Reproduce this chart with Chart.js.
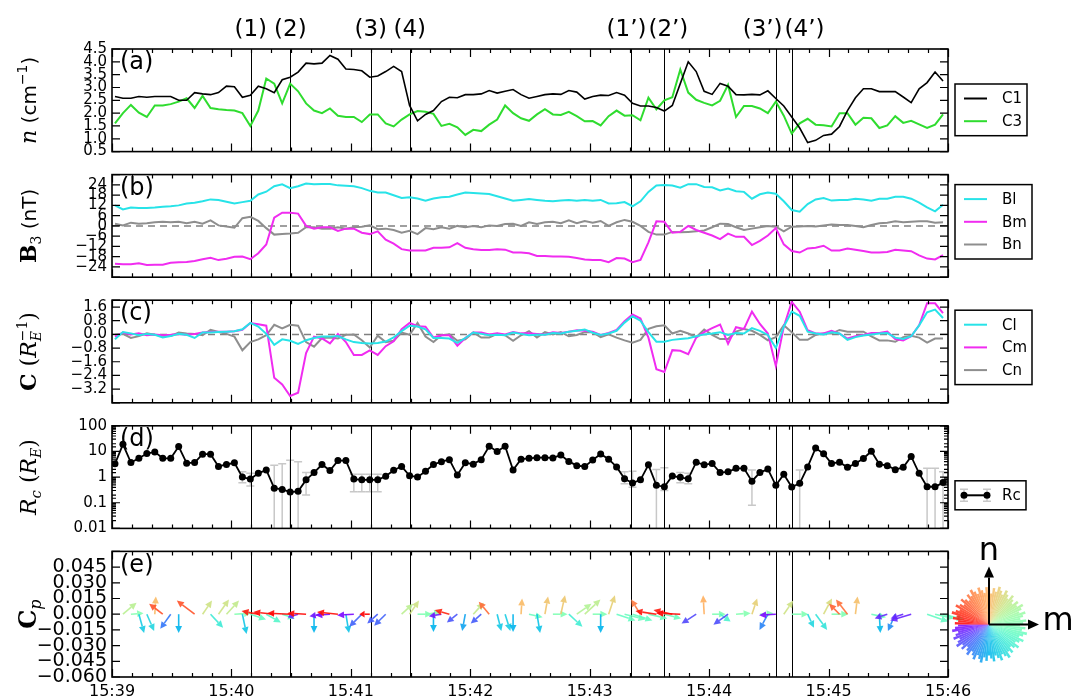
<!DOCTYPE html>
<html>
<head>
<meta charset="utf-8">
<script src="https://cdn.jsdelivr.net/npm/chart.js@4.4.1/dist/chart.umd.min.js"></script>
<style>
  body { margin: 0; background: #fff; }
  #wrap { position: relative; width: 1086px; height: 700px; }
  #wrap canvas { position: absolute; left: 0; top: 0; }
</style>
</head>
<body>
<div id="wrap">
  <canvas id="panel-a" width="1086" height="700"></canvas>
  <canvas id="panel-b" width="1086" height="700"></canvas>
  <canvas id="panel-c" width="1086" height="700"></canvas>
  <canvas id="panel-d" width="1086" height="700"></canvas>
  <canvas id="panel-e" width="1086" height="700"></canvas>
</div>
<script>
// samples every 4 s, counted in seconds from 15:39:00
const sampleStart = 1.5;
const sampleStep = 4;
const xTickLabels = ["15:39", "15:40", "15:41", "15:42", "15:43", "15:44", "15:45", "15:46"];

const eventSeconds = [69.7, 89.6, 130.0, 149.6, 260.8, 277.2, 333.4, 341.4];
const eventLabels = ["(1)", "(2)", "(3)", "(4)", "(1\u2019)", "(2\u2019)", "(3\u2019)", "(4\u2019)"];

// y tick values per panel (ends of range are unlabeled)
const yTicksA = [0.5, 1.0, 1.5, 2.0, 2.5, 3.0, 3.5, 4.0, 4.5];
const yTicksB = [-30, -24, -18, -12, -6, 0, 6, 12, 18, 24, 30];
const yTicksC = [-4.0, -3.2, -2.4, -1.6, -0.8, 0.0, 0.8, 1.6, 2.0];
const yTicksE = [-0.06, -0.045, -0.03, -0.015, 0, 0.015, 0.03, 0.045, 0.06];

// (a) density
const nC1 = [
  2.65, 2.58, 2.58, 2.65, 2.62, 2.65, 2.65, 2.65, 2.5, 2.5,
  2.8, 2.75, 2.72, 2.8, 3.05, 3.03, 2.62, 2.7, 3.05, 2.95,
  2.8, 3.3, 3.4, 3.6, 3.95, 3.92, 3.95, 4.25, 4.1, 3.72,
  3.7, 3.65, 3.4, 3.45, 3.62, 3.82, 3.62, 2.3, 1.7, 1.95,
  2.1, 2.45, 2.62, 2.6, 2.72, 2.72, 2.75, 2.88, 2.78, 2.85,
  2.92, 2.72, 2.58, 2.65, 2.72, 2.75, 2.73, 2.88, 2.82, 2.55,
  2.65, 2.7, 2.69, 2.8, 2.7, 2.38, 2.28, 2.28, 2.22, 2.08,
  2.3, 3.15, 4.0, 3.62, 2.85, 2.73, 3.16, 3.05, 2.72, 2.71,
  2.73, 2.71, 2.87, 2.57, 2.28, 1.85, 1.42, 0.85, 0.94, 1.13,
  1.18, 1.48, 2.1, 2.6, 2.95, 2.95, 2.84, 2.84, 2.84, 2.63,
  2.41, 2.95, 3.19, 3.6, 3.25
];
const nC3 = [
  1.6, 2.0, 2.32, 2.02, 1.85, 2.3, 2.3, 2.35, 2.45, 2.58,
  2.2, 2.67, 2.2, 2.15, 2.12, 2.1, 2.0, 1.5, 2.1, 3.35,
  3.15, 2.38, 3.15, 2.85, 2.38, 2.1, 2.0, 2.18, 1.9, 1.85,
  1.85, 1.65, 1.95, 1.95, 1.6, 1.48, 1.75, 1.95, 2.08, 2.05,
  1.97, 1.5, 1.58, 1.45, 1.15, 1.35, 1.3, 1.55, 1.75, 2.3,
  2.0, 1.8, 1.7, 1.95, 2.15, 1.95, 1.93, 2.05, 1.88, 1.68,
  1.69, 1.52, 1.88, 2.1, 1.9, 1.92, 1.72, 2.6, 2.15, 2.5,
  2.62, 3.7, 2.8, 2.52, 2.4, 2.3, 2.48, 3.1, 1.85, 2.28,
  2.28, 2.18, 2.0, 2.45, 1.9, 1.2, 1.6, 1.78, 1.55, 1.53,
  1.48, 2.0, 2.0, 1.55, 1.82, 1.8, 1.42, 1.52, 1.88, 1.62,
  1.7, 1.56, 1.42, 1.55, 1.95
];

// (b) magnetic field, LMN
const bL = [
  12, 9.6, 10.7, 10.4, 10.4, 10.7, 11.2, 11.5, 12, 13.1,
  13.6, 14.4, 15.5, 15.2, 14.1, 13.1, 13.9, 14.7, 18.4, 20,
  23.2, 24.3, 22.1, 23.2, 24.8, 24.3, 24.5, 24.5, 23.7, 23.5,
  23.2, 22.1, 20.5, 19.5, 19.5, 17.9, 16.3, 16.8, 16, 14.7,
  16, 16.8, 17.1, 18.4, 19.5, 19.2, 18.9, 18.7, 17.3, 16,
  14.7, 15.2, 15.7, 15.2, 14.7, 14.4, 14.8, 15.2, 14.7, 15.2,
  14.7, 15.2, 13.1, 13.2, 13.9, 11.5, 14.4, 19.9, 23.6, 23.9,
  23.6, 22.3, 24.4, 24.4, 22.8, 22.6, 20.7, 21.8, 20.3, 19.9,
  15.9, 18.5, 19.5, 18.8, 14.4, 9.3, 8.3, 12.8, 15.5, 16.3,
  14.8, 15.2, 15.2, 15.9, 15.5, 14.7, 15.9, 15.9, 17.1, 17.1,
  15.9, 13.6, 10.8, 8.5, 12.4
];
const bM = [
  -22.1, -22.4, -22.4, -21.9, -22.9, -22.7, -22.7, -21.6, -21.3, -21.1,
  -20.5, -19.5, -18.7, -20, -19.2, -18.1, -17.9, -19.5, -16, -10.9,
  4.8, 7.7, 7.7, 7.2, 0, -1.6, -0.8, -0.8, -2.9, -1.6,
  -1.6, -4, -4.8, -3.2, -8, -10.4, -13.6, -14.4, -14.4, -14.4,
  -12.8, -12.8, -12.5, -10.1, -12.8, -13.6, -14.1, -14.1, -13.6, -13.9,
  -15.5, -15.5, -16, -17.6, -17.6, -17.9, -17.9, -18, -18.8, -19.6,
  -19.9, -19.9, -21.2, -18.8, -19.1, -21.2, -19.9, -9.6, 2.7, 2.4,
  -4, -3.5, 0, -2.4, -4, -5.6, -7.7, -4.5, -6.4, -6.4,
  -11.2, -8.8, -5.6, -1.3, -10.8, -14.7, -15.6, -13.2, -12.8, -11.6,
  -14.4, -14.4, -13.2, -13.9, -14.7, -15.5, -15.5, -15.2, -13.9, -14.4,
  -14.8, -17.2, -19.1, -19.6, -17.1
];
const bN = [
  1.3, 0.3, 1.9, 1.3, 1.6, 2.1, 2.4, 2.1, 2.4, 1.6,
  2.4, 1.3, 3.2, 0.3, -0.3, -1.1, 4.5, 5.3, 2.9, -1.3,
  -5.1, -4.8, -4.5, -4, -0.8, -0.8, -1.6, -1.6, -0.8, -1.6,
  -0.8, -0.5, 0.3, -1.9, -1.6, -2.4, -4, -2.9, -4.8, -1.3,
  -1.9, -0.8, -1.6, 0, -0.8, 0, -0.8, 0.3, 0, 1.1,
  1.3, 0, 2.1, 1.1, 2.1, 2.4, 1.6, 3.2, 1.6, 2.9,
  1.9, 2.9, 0, 2.1, 3.5, 2.4, 0, -3.5, -5.1, -5.1,
  -3.5, -3.7, -3.5, -3.2, -2.7, -0.8, 1.3, 1.1, -0.8, -2.4,
  -1.6, -0.8, 0, -0.5, -3.2, -0.5, -0.3, 0, -0.3, 0.3,
  0.8, 0.5, 0.5, 0, -0.8, 0.5, 1.6, 1.9, 2.7, 2.1,
  2.4, 2.7, 2.7, 1.9, 2.1
];

// (c) curvature components
const cL = [
  -0.29, 0.14, 0.06, -0.05, 0.03, -0.02, -0.18, -0.1, 0.03, -0.02,
  -0.21, 0.11, 0.11, 0.14, 0.16, 0.19, 0.3, 0.67, 0.46, 0.03,
  -0.61, -0.29, -0.37, -0.56, -0.34, -0.21, -0.13, -0.13, -0.1, -0.29,
  -0.45, -0.5, -0.53, -0.5, -0.42, -0.18, 0.19, 0.51, 0.46, 0.3,
  -0.21, -0.21, -0.24, -0.5, -0.21, 0.11, 0.03, -0.05, -0.02, -0.05,
  0.11, 0.03, -0.05, -0.02, -0.02, 0.08, 0.05, 0.16, 0.21, 0.29,
  0.1, -0.03, 0.05, 0.21, 0.69, 1.06, 0.8, 0.13, -0.43, -0.43,
  -0.32, -0.27, -0.23, -0.11, 0, 0.05, 0.13, -0.03, 0.08, 0.05,
  0.37, 0.21, -0.03, -0.8, 0.45, 1.33, 1.09, 0.16, 0.05, 0,
  0.13, 0.05, -0.32, -0.16, -0.06, 0, 0.05, 0.08, -0.19, -0.27,
  -0.11, 0.53, 1.29, 1.45, 0.96
];
const cM = [
  -0.13, 0.11, 0, 0.06, -0.05, 0, -0.05, -0.02, 0.03, -0.02,
  0.03, 0.11, 0.14, 0.16, 0.16, 0.19, 0.27, 0.67, 0.59, 0.51,
  -2.53, -2.93, -3.6, -3.41, -1.09, -0.13, -0.24, -0.53, 0.03, -0.45,
  -1.2, -1.2, -0.93, -1.2, -0.69, -0.4, 0.3, 0.67, 0.48, 0.45,
  -0.18, -0.05, -0.05, -0.66, -0.21, 0.11, 0.11, 0, 0.06, 0,
  0.14, 0.06, 0.06, 0.03, 0, 0.13, 0.08, 0.16, 0.24, 0.21,
  0.16, -0.03, 0.08, 0.26, 0.77, 1.17, 0.93, -0.19, -2.04, -2.2,
  -0.92, -0.96, -1.16, -0.19, 0.13, 0.37, 0.58, -0.55, 0.42, 0.32,
  1.33, 0.61, 0.05, -1.85, 0.45, 1.9, 1.33, 0.24, 0.05, 0.05,
  0.21, 0.05, -0.24, -0.11, -0.03, 0.08, 0.08, 0.16, -0.27, -0.35,
  -0.11, 0.53, 1.82, 1.82, 1.25
];
const cN = [
  -0.02, 0.03, -0.21, -0.1, 0.06, -0.02, -0.08, -0.1, 0.11, 0.06,
  0.03, -0.05, 0.27, 0.14, 0.03, -0.13, -0.93, -0.45, -0.29, -0.05,
  0.56, 0.35, 0.56, 0.51, -0.45, -0.72, -0.21, -0.18, -0.24, -0.02,
  0, -0.34, -0.77, -0.08, -0.45, -0.37, 0.11, -0.02, 0.67, -0.13,
  -0.45, -0.05, 0, -0.37, -0.29, 0.11, -0.18, -0.18, 0.03, -0.05,
  -0.37, -0.05, 0.19, -0.18, 0.14, 0, 0.13, -0.11, -0.03, 0.13,
  0.13, -0.16, 0, -0.19, -0.35, -0.48, -0.32, 0.32, 0.48, 0.53,
  0.05, 0.21, 0.05, -0.16, 0.29, -0.03, -0.27, -0.27, 0.16, 0.32,
  0.21, -0.03, -0.35, -0.16, 0.53, 0.13, -0.32, -0.32, -0.03, 0.05,
  0.05, 0.26, 0.16, 0.16, 0.16, -0.11, -0.35, -0.35, -0.43, -0.16,
  -0.08, -0.19, -0.48, -0.24, -0.24
];

// (d) curvature radius and its error bars
const rc = [
  3.3, 19, 3.7, 5.4, 8.3, 9.6, 5.4, 5.4, 15.5, 3.5,
  3.7, 7.8, 7.8, 2.6, 3.1, 3.6, 1.0, 0.84, 1.4, 1.9,
  0.37, 0.33, 0.26, 0.28, 0.78, 1.5, 3.1, 1.8, 4.4, 4.4,
  0.84, 0.78, 0.78, 0.78, 1.08, 1.86, 2.6, 1.13, 1.0, 1.7,
  3.1, 4.0, 4.8, 1.2, 3.6, 3.2, 4.8, 16, 10, 16,
  1.9, 5.0, 5.4, 5.7, 5.7, 5.6, 7.2, 4.1, 2.8, 2.6,
  4.6, 8.0, 5.0, 2.5, 0.86, 0.59, 0.78, 3.0, 0.48, 0.42,
  1.1, 0.98, 0.86, 3.8, 3.0, 3.4, 1.5, 1.6, 2.2, 2.2,
  0.69, 1.5, 2.05, 0.48, 1.28, 0.41, 0.57, 2.5, 13.5, 8.2,
  3.4, 3.8, 2.4, 3.4, 5.3, 10.2, 3.2, 2.8, 1.95, 2.4,
  6.4, 1.4, 0.42, 0.42, 0.61
];
const rcErrIdx = [16, 17, 20, 21, 22, 23, 24, 30, 31, 32, 33, 64, 65, 68, 69, 71, 72, 80, 86, 102, 103, 104];
const rcErrLow = [0.6, 0.45, 0.005, 0.005, 0.005, 0.005, 0.2, 0.27, 0.27, 0.27, 0.27, 0.55, 0.4, 0.005, 0.3, 0.6, 0.55, 0.08, 0.005, 0.005, 0.005, 0.005];
const rcErrHigh = [1.6, 1.4, 2.9, 3.3, 4.5, 4.0, 1.5, 1.3, 1.3, 1.3, 1.3, 1.6, 1.7, 2.0, 2.3, 1.5, 1.4, 1.9, 1.9, 2.2, 2.2, 1.6];

// (e) Cp vectors in the m-n plane (tail on the zero line)
const cpIdx = [1, 2, 3, 4, 5, 6, 7, 8, 10, 11, 12, 13, 14, 15, 16, 17, 18, 19, 20, 21,
  22, 23, 24, 25, 26, 27, 28, 29, 30, 31, 32, 33, 34, 36, 37, 38, 39, 40, 41, 42,
  43, 44, 45, 46, 47, 48, 49, 50, 51, 52, 53, 54, 55, 56, 57, 58, 59, 60, 61, 62,
  63, 64, 65, 66, 67, 68, 69, 70, 71, 73, 74, 75, 76, 77, 78, 80, 81, 82, 83, 84,
  85, 87, 88, 89, 90, 91, 92, 93, 95, 96, 97, 98, 99, 100, 102, 103, 104];
const cpM = [0.013, 0.012, 0.005, 0.007, 0.001, -0.013, -0.010, 0.000, -0.017, 0.009, 0.012, 0.010, 0.012, 0.016, 0.004, 0.015, -0.016, 0.014, -0.020, 0.012,
  -0.022, -0.010, -0.018, 0.000, -0.012, -0.014, -0.020, 0.003, -0.016, -0.012, -0.010, -0.010, -0.011, 0.011, 0.009, 0.014, 0.015, 0.000, -0.012, -0.014,
  -0.010, -0.003, 0.010, -0.010, -0.010, 0.004, 0.005, 0.000, 0.001, 0.013, 0.003, 0.003, 0.014, 0.004, 0.013, 0.014, 0.015, 0.014, 0.000, 0.006,
  0.018, 0.020, 0.019, -0.009, 0.018, -0.020, 0.016, -0.018, -0.023, -0.014, -0.001, 0.013, 0.010, -0.014, 0.014, 0.005, 0.013, -0.008, -0.016, 0.009,
  0.016, 0.006, 0.011, 0.008, 0.016, -0.010, -0.011, 0.002, 0.014, 0.001, -0.012, -0.007, -0.012, -0.020, 0.020, 0.018, 0.020];
const cpN = [0.011, 0.001, -0.018, -0.016, 0.017, 0.010, -0.014, -0.018, 0.013, 0.013, -0.013, 0.014, 0.013, 0.001, -0.019, -0.005, 0.003, -0.008, 0.002, -0.004,
  0.001, -0.003, 0.001, -0.018, -0.002, -0.001, 0.002, -0.018, -0.001, -0.012, 0.000, -0.009, -0.011, 0.010, 0.013, 0.000, 0.002, -0.017, -0.002, 0.004,
  -0.008, -0.016, 0.011, -0.009, 0.012, -0.016, -0.016, -0.017, 0.015, -0.003, -0.018, 0.017, 0.000, 0.018, -0.012, 0.010, 0.014, 0.000, -0.018, 0.018,
  -0.006, -0.005, -0.006, 0.014, -0.004, 0.003, -0.004, 0.004, 0.001, -0.009, 0.018, 0.000, -0.007, -0.010, 0.001, 0.015, 0.001, -0.015, -0.001, 0.013,
  0.000, -0.013, -0.015, 0.015, 0.000, 0.010, 0.014, 0.017, -0.003, -0.018, -0.004, -0.016, -0.004, -0.006, -0.007, -0.004, -0.005];

const plotLeft = 112, plotRight = 948, plotTop = 49, panelHeight = 125.6, xAxisHeight = 23;

const toPoints = vals => vals.map((v, i) => ({ x: sampleStart + i * sampleStep, y: v }));
const minus = s => s.replace("-", "\u2212");

function rainbow(f, alpha) {
  const r = Math.min(1, Math.abs(2 * f - 0.5));
  const g = Math.max(0, Math.sin(Math.PI * f));
  const b = Math.max(0, Math.cos(Math.PI * f / 2));
  return `rgba(${Math.round(r * 255)},${Math.round(g * 255)},${Math.round(b * 255)},${alpha})`;
}
const angleColor = (m, n, alpha) => rainbow((Math.atan2(n, m) + Math.PI) / (2 * Math.PI), alpha);

function drawArrow(ctx, x0, y0, x1, y1, color, width, headLen, headHalf) {
  const dx = x1 - x0, dy = y1 - y0, len = Math.hypot(dx, dy);
  if (len < 0.5) return;
  const ux = dx / len, uy = dy / len;
  const hl = Math.min(headLen, len * 0.5);
  const bx = x1 - ux * hl, by = y1 - uy * hl;
  ctx.strokeStyle = color;
  ctx.fillStyle = color;
  ctx.lineWidth = width;
  ctx.beginPath(); ctx.moveTo(x0, y0); ctx.lineTo(bx, by); ctx.stroke();
  ctx.beginPath();
  ctx.moveTo(x1, y1);
  ctx.lineTo(bx - uy * headHalf, by + ux * headHalf);
  ctx.lineTo(bx + uy * headHalf, by - ux * headHalf);
  ctx.closePath(); ctx.fill();
}

// rotated y title built from runs with their own fonts
function drawTitle(ctx, parts, cx, cy) {
  ctx.save();
  ctx.translate(cx, cy);
  ctx.rotate(-Math.PI / 2);
  let total = 0;
  parts.forEach(p => { ctx.font = p.f; p.w = p.adv === 0 ? 0 : ctx.measureText(p.t).width; total += p.w; });
  let px = -total / 2;
  ctx.fillStyle = "#000";
  ctx.textBaseline = "alphabetic";
  parts.forEach(p => { ctx.font = p.f; ctx.fillText(p.t, px, 7 + (p.dy || 0)); px += p.w; });
  ctx.restore();
}

const decor = {
  id: "decor",
  beforeDatasetsDraw(chart, args, o) {
    const { ctx, chartArea: a } = chart;
    const x = chart.scales.x, y = chart.scales.y;
    ctx.save();
    ctx.beginPath(); ctx.rect(a.left, a.top, a.right - a.left, a.bottom - a.top); ctx.clip();
    if (o.zeroLine) {
      const py = y.getPixelForValue(0);
      ctx.setLineDash([7, 5]);
      ctx.strokeStyle = "#808080"; ctx.lineWidth = 1.5;
      ctx.beginPath(); ctx.moveTo(a.left, py); ctx.lineTo(a.right, py); ctx.stroke();
      ctx.setLineDash([]);
    }
    if (o.errorBars) {
      ctx.strokeStyle = "#c8c8c8"; ctx.lineWidth = 1.5;
      rcErrIdx.forEach((i, k) => {
        const px = x.getPixelForValue(sampleStart + i * sampleStep);
        const p1 = y.getPixelForValue(rcErrLow[k]), p2 = y.getPixelForValue(rcErrHigh[k]);
        ctx.beginPath();
        ctx.moveTo(px, p1); ctx.lineTo(px, p2);
        ctx.moveTo(px - 4, p1); ctx.lineTo(px + 4, p1);
        ctx.moveTo(px - 4, p2); ctx.lineTo(px + 4, p2);
        ctx.stroke();
      });
    }
    ctx.strokeStyle = "#000"; ctx.lineWidth = 1;
    eventSeconds.forEach(t => {
      const px = Math.round(x.getPixelForValue(t)) + 0.5;
      ctx.beginPath(); ctx.moveTo(px, a.top); ctx.lineTo(px, a.bottom); ctx.stroke();
    });
    ctx.restore();
  },
  afterDatasetsDraw(chart, args, o) {
    if (!o.arrows) return;
    const { ctx } = chart;
    const x = chart.scales.x, y = chart.scales.y;
    const y0 = y.getPixelForValue(0);
    const k = (y0 - y.getPixelForValue(0.015)) / 0.015;
    ctx.save();
    cpIdx.forEach((i, j) => {
      const x0 = x.getPixelForValue(sampleStart + i * sampleStep);
      const m = cpM[j], n = cpN[j];
      drawArrow(ctx, x0, y0, x0 + m * k, y0 - n * k, angleColor(m, n, 0.9), 1.6, 7, 3.4);
    });
    ctx.restore();
  },
  afterDraw(chart, args, o) {
    const { ctx, chartArea: a } = chart;
    const x = chart.scales.x, y = chart.scales.y;
    ctx.save();

    // ticks pointing inward on all four sides
    ctx.strokeStyle = "#000"; ctx.lineWidth = 1.2;
    ctx.beginPath();
    for (let t = 0; t <= 420; t += 10) {
      const px = Math.round(x.getPixelForValue(t)) + 0.5;
      const len = t % 60 === 0 ? 8 : 4;
      ctx.moveTo(px, a.top); ctx.lineTo(px, a.top + len);
      ctx.moveTo(px, a.bottom); ctx.lineTo(px, a.bottom - len);
    }
    y.ticks.forEach(tk => {
      const py = y.getPixelForValue(tk.value);
      if (py < a.top - 0.5 || py > a.bottom + 0.5) return;
      let len = 8;
      if (o.logTicks) {
        const l = Math.log10(tk.value);
        len = Math.abs(l - Math.round(l)) < 1e-6 ? 8 : 4;
      }
      ctx.moveTo(a.left, py); ctx.lineTo(a.left + len, py);
      ctx.moveTo(a.right, py); ctx.lineTo(a.right - len, py);
    });
    ctx.stroke();

    ctx.lineWidth = 1.6;
    ctx.strokeRect(a.left, a.top, a.right - a.left, a.bottom - a.top);

    // panel letter
    ctx.fillStyle = "#000";
    ctx.font = "24px 'DejaVu Sans'";
    ctx.textAlign = "left"; ctx.textBaseline = "top";
    ctx.fillText(o.letter, a.left + 8, a.top + 2);

    drawTitle(ctx, o.title, 29, (a.top + a.bottom) / 2);

    // legend box
    if (o.legend) {
      const items = o.legend.items;
      const bx = a.right + 7, by = a.top + o.legend.top;
      const bh = 29 + (items.length - 1) * 22.7;
      ctx.fillStyle = "#fff"; ctx.fillRect(bx, by, o.legend.width, bh);
      ctx.strokeStyle = "#000"; ctx.lineWidth = 1.5; ctx.strokeRect(bx, by, o.legend.width, bh);
      items.forEach((it, r) => {
        const cy = by + 14.5 + r * 22.7;
        const l0 = bx + 9, l1 = bx + 32;
        if (it.markers) {
          ctx.strokeStyle = "#c8c8c8"; ctx.lineWidth = 1.5;
          ctx.beginPath();
          [l0, l1].forEach(px => {
            ctx.moveTo(px, cy - 6); ctx.lineTo(px, cy + 6);
            ctx.moveTo(px - 4, cy - 6); ctx.lineTo(px + 4, cy - 6);
            ctx.moveTo(px - 4, cy + 6); ctx.lineTo(px + 4, cy + 6);
          });
          ctx.stroke();
        }
        ctx.strokeStyle = it.color; ctx.lineWidth = 2;
        ctx.beginPath(); ctx.moveTo(l0, cy); ctx.lineTo(l1, cy); ctx.stroke();
        if (it.markers) {
          ctx.fillStyle = it.color;
          [l0, l1].forEach(px => { ctx.beginPath(); ctx.arc(px, cy, 3.5, 0, 2 * Math.PI); ctx.fill(); });
        }
        ctx.fillStyle = "#000";
        ctx.font = "15px 'DejaVu Sans'";
        ctx.textAlign = "left"; ctx.textBaseline = "middle";
        ctx.fillText(it.label, bx + 47, cy + 1);
      });
    }

    // event labels above the first panel
    if (o.eventLabels) {
      ctx.font = "23px 'DejaVu Sans'";
      ctx.textAlign = "center"; ctx.textBaseline = "middle";
      ctx.fillStyle = "#000";
      const items = eventSeconds.map((t, i) => ({
        c: x.getPixelForValue(t), s: eventLabels[i], w: ctx.measureText(eventLabels[i]).width
      }));
      for (let i = 1; i < items.length; i++) {
        const need = (items[i - 1].w + items[i].w) / 2 + 2;
        const gap = items[i].c - items[i - 1].c;
        if (gap < need) { const d = (need - gap) / 2; items[i - 1].c -= d; items[i].c += d; }
      }
      items.forEach(it => ctx.fillText(it.s, it.c, 30));
    }

    // direction key: colour wheel with m and n axes
    if (o.wheel) {
      const cx = a.right + 41, cy = a.top + 73;
      const spikes = 90;
      for (let s = 0; s < spikes; s++) {
        const t0 = -Math.PI + s * 2 * Math.PI / spikes, t1 = t0 + 2 * Math.PI / spikes;
        const r = 31 + ((s * 37) % 11) * 0.8;
        const mid = (t0 + t1) / 2;
        ctx.fillStyle = angleColor(Math.cos(mid), Math.sin(mid), 0.85);
        ctx.beginPath();
        ctx.moveTo(cx, cy);
        ctx.lineTo(cx + r * Math.cos(t0), cy - r * Math.sin(t0));
        ctx.lineTo(cx + r * Math.cos(t1), cy - r * Math.sin(t1));
        ctx.closePath(); ctx.fill();
      }
      drawArrow(ctx, cx, cy, cx, cy - 58, "#000", 2, 11, 5);
      drawArrow(ctx, cx, cy, cx + 50, cy, "#000", 2, 11, 5);
      ctx.fillStyle = "#000";
      ctx.font = "32px 'DejaVu Sans'";
      ctx.textAlign = "center"; ctx.textBaseline = "middle";
      ctx.fillText("n", cx, cy - 73);
      ctx.fillText("m", cx + 69, cy - 3);
    }
    ctx.restore();
  }
};

const serif = "'DejaVu Serif'";
const sans = "'DejaVu Sans'";

const panels = [
  {
    canvas: "panel-a", letter: "(a)", eventLabels: true,
    title: [
      { t: "n", f: `italic 22px ${serif}` },
      { t: " (cm", f: `20px ${sans}` },
      { t: "\u22121", f: `14px ${sans}`, dy: -9 },
      { t: ")", f: `20px ${sans}` }
    ],
    y: { type: "linear", min: 0.5, max: 4.5, ticks: yTicksA, size: 15, fmt: v => v.toFixed(1) },
    series: [
      { label: "C1", values: nC1, color: "#000000", width: 1.6 },
      { label: "C3", values: nC3, color: "#2fdc2f", width: 2 }
    ],
    legend: { top: 35, width: 72 }
  },
  {
    canvas: "panel-b", letter: "(b)", zeroLine: true,
    title: [
      { t: "B", f: `bold 22px ${serif}` },
      { t: "3", f: `14px ${serif}`, dy: 5 },
      { t: " (nT)", f: `20px ${sans}` }
    ],
    y: { type: "linear", min: -30, max: 30, ticks: yTicksB, size: 15, fmt: v => Math.abs(v) > 29 ? "" : minus(String(v)) },
    series: [
      { label: "Bl", values: bL, color: "#27e3e8", width: 2 },
      { label: "Bm", values: bM, color: "#f02cf0", width: 2 },
      { label: "Bn", values: bN, color: "#8e8e8e", width: 2 }
    ],
    legend: { top: 10, width: 77 }
  },
  {
    canvas: "panel-c", letter: "(c)", zeroLine: true,
    title: [
      { t: "C", f: `bold 22px ${serif}` },
      { t: " (", f: `22px ${serif}` },
      { t: "R", f: `italic 22px ${serif}` },
      { t: "E", f: `italic 14px ${serif}`, dy: 5, adv: 0 },
      { t: "\u22121", f: `14px ${serif}`, dy: -9 },
      { t: ")", f: `22px ${serif}` }
    ],
    y: { type: "linear", min: -4, max: 2, ticks: yTicksC, size: 15, fmt: v => (v < -3.9 || v > 1.9) ? "" : minus(v.toFixed(1)) },
    series: [
      { label: "Cl", values: cL, color: "#27e3e8", width: 2 },
      { label: "Cm", values: cM, color: "#f02cf0", width: 2 },
      { label: "Cn", values: cN, color: "#8e8e8e", width: 2 }
    ],
    legend: { top: 10, width: 77 }
  },
  {
    canvas: "panel-d", letter: "(d)", errorBars: true, logTicks: true,
    title: [
      { t: "R", f: `italic 22px ${serif}` },
      { t: "c", f: `italic 15px ${serif}`, dy: 5 },
      { t: " (", f: `22px ${serif}` },
      { t: "R", f: `italic 22px ${serif}` },
      { t: "E", f: `italic 14px ${serif}`, dy: 5 },
      { t: ")", f: `22px ${serif}` }
    ],
    y: {
      type: "logarithmic", min: 0.01, max: 100, size: 15,
      fmt: v => { const l = Math.log10(v); return Math.abs(l - Math.round(l)) < 1e-6 ? String(Number(v.toPrecision(3))) : ""; }
    },
    series: [
      { label: "Rc", values: rc, color: "#000000", width: 1.8, markers: true }
    ],
    legend: { top: 55, width: 71 }
  },
  {
    canvas: "panel-e", letter: "(e)", arrows: true, wheel: true, bottom: true,
    title: [
      { t: "C", f: `bold 24px ${serif}` },
      { t: "p", f: `italic 16px ${serif}`, dy: 5 }
    ],
    y: { type: "linear", min: -0.06, max: 0.06, ticks: yTicksE, size: 19, fmt: v => v > 0.059 ? "" : minus(v.toFixed(3)) },
    series: []
  }
];

panels.forEach((p, idx) => {
  const top = plotTop + idx * panelHeight;
  const bottom = top + panelHeight;
  const ctx = document.getElementById(p.canvas).getContext("2d");

  const datasets = p.series.map(s => ({
    label: s.label,
    data: toPoints(s.values),
    borderColor: s.color,
    backgroundColor: s.color,
    borderWidth: s.width,
    pointRadius: s.markers ? 3.5 : 0,
    pointBorderWidth: 0,
    pointBackgroundColor: s.color,
    tension: 0,
    fill: false
  }));

  new Chart(ctx, {
    type: "line",
    data: { datasets },
    options: {
      responsive: false,
      animation: false,
      devicePixelRatio: 1,
      layout: {
        padding: {
          left: 0,
          right: 1086 - plotRight,
          top: top,
          bottom: p.bottom ? 700 - bottom - xAxisHeight : 700 - bottom
        }
      },
      scales: {
        x: {
          type: "linear", min: 0, max: 420,
          display: !!p.bottom,
          afterFit: s => { s.height = xAxisHeight; },
          grid: { display: false, drawTicks: false },
          border: { display: false },
          ticks: {
            stepSize: 60, autoSkip: false, maxRotation: 0, padding: 5,
            color: "#000", font: { family: "DejaVu Sans", size: 16 },
            callback: v => xTickLabels[Math.round(v / 60)]
          }
        },
        y: {
          type: p.y.type, min: p.y.min, max: p.y.max,
          afterFit: s => { s.width = plotLeft; },
          afterBuildTicks: s => { if (p.y.ticks) s.ticks = p.y.ticks.map(v => ({ value: v })); },
          grid: { display: false, drawTicks: false },
          border: { display: false },
          ticks: {
            autoSkip: false, padding: 5,
            color: "#000", font: { family: "DejaVu Sans", size: p.y.size },
            callback: v => p.y.fmt(v)
          }
        }
      },
      plugins: {
        legend: { display: false },
        tooltip: { enabled: false },
        decor: {
          letter: p.letter,
          title: p.title,
          zeroLine: !!p.zeroLine,
          errorBars: !!p.errorBars,
          logTicks: !!p.logTicks,
          arrows: !!p.arrows,
          wheel: !!p.wheel,
          eventLabels: !!p.eventLabels,
          legend: p.legend ? {
            top: p.legend.top, width: p.legend.width,
            items: p.series.map(s => ({ label: s.label, color: s.color, markers: !!s.markers }))
          } : null
        }
      }
    },
    plugins: [decor]
  });
});
</script>
</body>
</html>
